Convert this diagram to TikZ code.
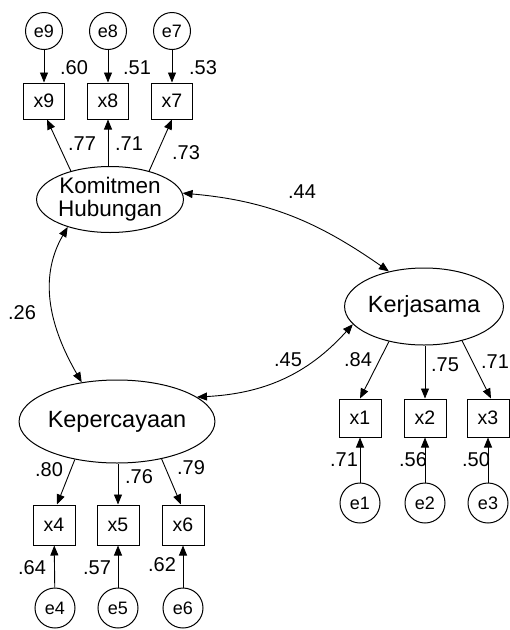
\documentclass[tikz,border=0pt]{standalone}
\usepackage{fontspec}
\setmainfont{Liberation Sans}
\usetikzlibrary{shapes.geometric,arrows.meta,calc}
\begin{document}
\begin{tikzpicture}[x=1pt,y=-1pt,
  obs/.style={draw, line width=1pt, minimum width=42pt, minimum height=38pt, inner sep=0pt, font=\fontsize{19.5}{19.5}\selectfont},
  obstop/.style={obs, minimum width=41pt, minimum height=36pt},
  err/.style={draw, circle, line width=1pt, minimum size=40pt, inner sep=0pt, font=\fontsize{18}{18}\selectfont},
  errtop/.style={err, minimum size=37pt},
  lat/.style={draw, ellipse, line width=1pt, inner sep=0pt, font=\fontsize{23.5}{23.5}\selectfont, align=center},
  lbl/.style={inner sep=0pt, font=\fontsize{20}{20}\selectfont},
  arr/.style={line width=0.9pt, -{Triangle[length=10pt,width=8pt]}},
  cov/.style={line width=0.9pt, {Triangle[length=10pt,width=8pt]}-{Triangle[length=10pt,width=8pt]}}
]
\useasboundingbox (0,0) rectangle (510,630);

% latent variables
\node[lat, minimum width=130pt, minimum height=66pt, font=\fontsize{22.5}{23}\selectfont] (kom) at (110,199.5) {Komitmen\\Hubungan};
\node[lat, minimum width=122pt, minimum height=77pt] (ker) at (424,306.5) {Kerjasama};
\node[lat, minimum width=132pt, minimum height=83pt] (kep) at (117,421.5) {Kepercayaan};

% top indicators
\node[obstop] (x9) at (44,101) {x9};
\node[obstop] (x8) at (108,101) {x8};
\node[obstop] (x7) at (172,101) {x7};
\node[errtop] (e9) at (44,31) {e9};
\node[errtop] (e8) at (108,31) {e8};
\node[errtop] (e7) at (172,31) {e7};

% right indicators
\node[obs] (x1) at (360,418) {x1};
\node[obs] (x2) at (425,418) {x2};
\node[obs] (x3) at (488,418) {x3};
\node[err] (e1) at (360,503) {e1};
\node[err] (e2) at (425,503) {e2};
\node[err] (e3) at (488,503) {e3};

% bottom indicators
\node[obs, minimum height=40pt] (x4) at (54,525) {x4};
\node[obs, minimum height=40pt] (x5) at (118,525) {x5};
\node[obs, minimum height=40pt] (x6) at (183,525) {x6};
\node[err] (e4) at (55,608) {e4};
\node[err] (e5) at (118,608) {e5};
\node[err] (e6) at (183,608) {e6};

% error arrows
\draw[arr] (e9) -- (x9);
\draw[arr] (e8) -- (x8);
\draw[arr] (e7) -- (x7);
\draw[arr] (e1) -- (x1);
\draw[arr] (e2) -- (x2);
\draw[arr] (e3) -- (x3);
\draw[arr] (e4) -- (x4);
\draw[arr] (e5) -- (x5);
\draw[arr] (e6) -- (x6);

% loadings
\draw[arr] (kom.144) -- ($(x9.south)+(3,0)$);
\draw[arr] (x8 |- kom.north) -- (x8.south);
\draw[arr] (kom.36) -- (x7.south);
\draw[arr] (ker.225) -- (x1.north);
\draw[arr] (x2 |- ker.south) -- (x2.north);
\draw[arr] (ker.-42) -- ($(x3.north)+(3,0)$);
\draw[arr] (kep.222) -- ($(x4.north)+(3,0)$);
\draw[arr] (x5 |- kep.south) -- (x5.north);
\draw[arr] (kep.-40) -- ($(x6.north)+(-2,0)$);

% covariances
\draw[cov] (kom.5) to[out=-5, in=145] (ker.135);
\draw[cov] (kom.213) to[out=240, in=120] (kep.132);
\draw[cov] (kep.17) to[out=3, in=228] (ker.194);

% labels
\node[lbl] (l60) at (74,68) {.60};
\node[lbl] (l51) at (137,68) {.51};
\node[lbl] (l53) at (203,68) {.53};
\node[lbl] (l77) at (82,144) {.77};
\node[lbl] (l71a) at (129,144) {.71};
\node[lbl] (l73) at (186,153) {.73};
\node[lbl] (l44) at (302,192) {.44};
\node[lbl] (l26) at (22,313) {.26};
\node[lbl] (l45) at (288,360) {.45};
\node[lbl] (l84) at (358,360) {.84};
\node[lbl] (l75) at (445,365) {.75};
\node[lbl] (l71b) at (495,362) {.71};
\node[lbl] (l71c) at (344,460) {.71};
\node[lbl] (l56) at (413,460) {.56};
\node[lbl] (l50) at (476,460) {.50};
\node[lbl] (l80) at (49,470) {.80};
\node[lbl] (l76) at (139,477) {.76};
\node[lbl] (l79) at (191,468) {.79};
\node[lbl] (l64) at (32,568) {.64};
\node[lbl] (l57) at (97,568) {.57};
\node[lbl] (l62) at (162,565) {.62};
\end{tikzpicture}
\end{document}
